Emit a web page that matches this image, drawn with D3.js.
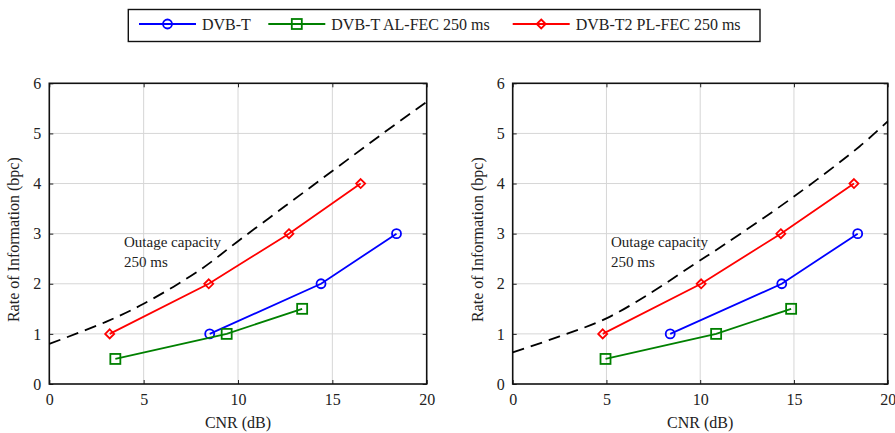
<!DOCTYPE html>
<html>
<head>
<meta charset="utf-8">
<script src="https://cdn.jsdelivr.net/npm/d3@7"></script>
<style>
  html, body { margin: 0; padding: 0; background: #fff; }
</style>
</head>
<body>
<div id="chart"></div>
<script>
// series names shown in the legend
const seriesNames = ["DVB-T", "DVB-T AL-FEC 250 ms", "DVB-T2 PL-FEC 250 ms"];
const xTicks = [0, 5, 10, 15, 20];
const yTicks = [0, 1, 2, 3, 4, 5, 6];
const noteLines = ["Outage capacity", "250 ms"];

// left panel  [CNR dB, bpc]
const leftDvbT = [[8.5, 1], [14.4, 2], [18.4, 3]];
const leftAlFec = [[3.5, 0.5], [9.4, 1], [13.4, 1.5]];
const leftPlFec = [[3.2, 1], [8.45, 2], [12.7, 3], [16.5, 4]];
const leftOutage = [[0, 0.8], [3, 1.24], [5, 1.6], [8, 2.28], [10, 2.85], [12.5, 3.55], [15, 4.25], [17.5, 4.95], [20, 5.63]];

// right panel
const rightDvbT = [[8.4, 1], [14.35, 2], [18.4, 3]];
const rightAlFec = [[4.95, 0.5], [10.85, 1], [14.85, 1.5]];
const rightPlFec = [[4.8, 1], [10.05, 2], [14.3, 3], [18.2, 4]];
const rightOutage = [[0, 0.63], [2.5, 0.95], [5, 1.31], [7.5, 1.85], [9.6, 2.37], [11.4, 2.81], [15, 3.74], [18.5, 4.74], [20, 5.24]];

const width = 895, height = 433;
const colors = ["#0000ff", "#008000", "#ff0000"];
const markers = ["circle", "square", "diamond"];
const serif = "'Liberation Serif', 'Times New Roman', serif";

const svg = d3.select("#chart").append("svg")
  .attr("width", width)
  .attr("height", height)
  .style("font-family", serif);

function drawMarker(g, type, x, y, color) {
  if (type === "circle") {
    g.append("circle").attr("cx", x).attr("cy", y).attr("r", 4.5)
      .attr("fill", "none").attr("stroke", color).attr("stroke-width", 1.8);
  } else if (type === "square") {
    g.append("rect").attr("x", x - 5).attr("y", y - 5).attr("width", 10).attr("height", 10)
      .attr("fill", "none").attr("stroke", color).attr("stroke-width", 1.8);
  } else {
    const s = 4.5;
    g.append("path").attr("d", `M${x},${y - s}L${x + s},${y}L${x},${y + s}L${x - s},${y}Z`)
      .attr("fill", "none").attr("stroke", color).attr("stroke-width", 1.8);
  }
}

function drawPanel(left, right, seriesData, outage, noteX) {
  const top = 83.3, bottom = 384;
  const x = d3.scaleLinear().domain([0, 20]).range([left, right]);
  const y = d3.scaleLinear().domain([0, 6]).range([bottom, top]);
  const g = svg.append("g");

  // grid
  g.append("g").selectAll("line").data(xTicks.slice(1, -1)).join("line")
    .attr("x1", d => x(d)).attr("x2", d => x(d)).attr("y1", top).attr("y2", bottom)
    .attr("stroke", "#d6d6d6").attr("stroke-width", 1);
  g.append("g").selectAll("line").data(yTicks.slice(1, -1)).join("line")
    .attr("x1", left).attr("x2", right).attr("y1", d => y(d)).attr("y2", d => y(d))
    .attr("stroke", "#d6d6d6").attr("stroke-width", 1);

  // axes, ticks inward
  g.append("g").attr("transform", `translate(0,${bottom})`)
    .call(d3.axisBottom(x).tickValues(xTicks).tickSize(-4).tickPadding(10).tickFormat(d3.format("d")));
  g.append("g").attr("transform", `translate(${left},0)`)
    .call(d3.axisLeft(y).tickValues(yTicks).tickSize(-4).tickPadding(8).tickFormat(d3.format("d")));
  g.append("g").attr("transform", `translate(0,${top})`)
    .call(d3.axisTop(x).tickValues(xTicks).tickSize(-4).tickFormat(""));
  g.append("g").attr("transform", `translate(${right},0)`)
    .call(d3.axisRight(y).tickValues(yTicks).tickSize(-4).tickFormat(""));
  g.selectAll(".domain").remove();
  g.selectAll("g").attr("font-family", null);
  g.selectAll(".tick line").attr("stroke", "#222").attr("stroke-width", 1);
  g.selectAll(".tick text").attr("font-size", 16).attr("fill", "#222")
    .style("font-family", serif);

  g.append("rect").attr("x", left).attr("y", top).attr("width", right - left).attr("height", bottom - top)
    .attr("fill", "none").attr("stroke", "#111").attr("stroke-width", 1.6);

  // outage capacity curve
  const curve = d3.line().x(d => x(d[0])).y(d => y(d[1])).curve(d3.curveCatmullRom);
  g.append("path").datum(outage).attr("d", curve)
    .attr("fill", "none").attr("stroke", "#000").attr("stroke-width", 1.8)
    .attr("stroke-dasharray", "12,7");

  // series
  const line = d3.line().x(d => x(d[0])).y(d => y(d[1]));
  seriesData.forEach((data, i) => {
    g.append("path").datum(data).attr("d", line)
      .attr("fill", "none").attr("stroke", colors[i]).attr("stroke-width", 1.8);
    data.forEach(d => drawMarker(g, markers[i], x(d[0]), y(d[1]), colors[i]));
  });

  // note
  const note = g.append("text").attr("font-size", 15).attr("fill", "#222");
  noteLines.forEach((t, i) => {
    note.append("tspan").attr("x", noteX).attr("y", 247 + i * 20).text(t);
  });

  // labels
  g.append("text").attr("x", (left + right) / 2).attr("y", 428).attr("fill", "#222")
    .attr("text-anchor", "middle").attr("font-size", 16).text("CNR (dB)");
  g.append("text").attr("transform", `translate(${left - 30},${(top + bottom) / 2 + 6}) rotate(-90)`)
    .attr("fill", "#222").attr("text-anchor", "middle").attr("font-size", 16).text("Rate of Information (bpc)");
}

drawPanel(49.3, 426.7, [leftDvbT, leftAlFec, leftPlFec], leftOutage, 124);
drawPanel(512.7, 887.7, [rightDvbT, rightAlFec, rightPlFec], rightOutage, 611);

// legend
const legend = svg.append("g");
legend.append("rect").attr("x", 128.3).attr("y", 9.5).attr("width", 631.7).attr("height", 32)
  .attr("fill", "#fff").attr("stroke", "#111").attr("stroke-width", 1.4);
const legendX = [139, 268.3, 512.7];
seriesNames.forEach((name, i) => {
  const lx = legendX[i];
  legend.append("line").attr("x1", lx).attr("x2", lx + 57).attr("y1", 24).attr("y2", 24)
    .attr("stroke", colors[i]).attr("stroke-width", 1.8);
  drawMarker(legend, markers[i], lx + 28.5, 24, colors[i]);
  legend.append("text").attr("x", lx + 63).attr("y", 30).attr("font-size", 16)
    .attr("fill", "#222").text(name);
});
</script>
</body>
</html>
